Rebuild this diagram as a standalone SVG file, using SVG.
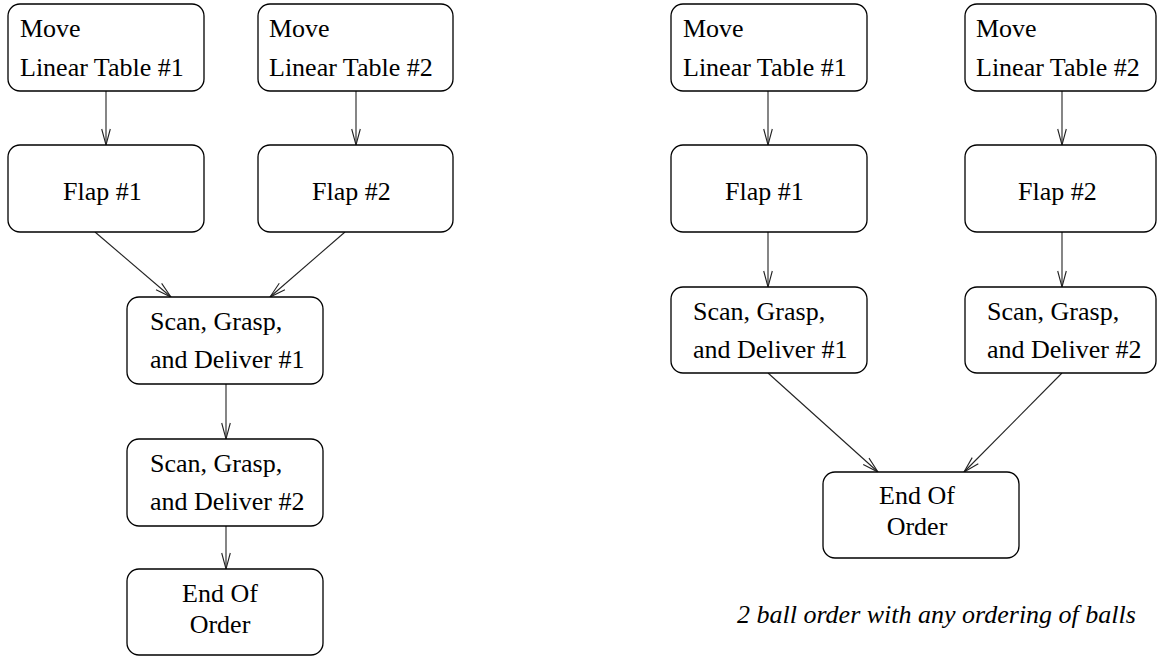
<svg xmlns="http://www.w3.org/2000/svg" width="1158" height="657" viewBox="0 0 1158 657">
<style>
.box{fill:#fff;stroke:#000;stroke-width:1.3}
.t{font-family:"Liberation Serif","Times New Roman",serif;font-size:26px;fill:#000}
.c{text-anchor:middle}
.e{stroke:#222;stroke-width:1.1;fill:none}
.cap{font-style:italic}
</style>
<defs>
<marker id="ah" viewBox="-17 -6 18 12" markerWidth="18" markerHeight="12" refX="0" refY="0" markerUnits="userSpaceOnUse" orient="auto">
<path d="M-16,-4.3 L0,0 L-16,4.3" fill="none" stroke="#222" stroke-width="1.1"/>
</marker>
</defs>
<rect width="1158" height="657" fill="#fff"/>
<g id="connectors">
<line class="e" x1="106" y1="91" x2="106" y2="145" marker-end="url(#ah)"/>
<line class="e" x1="356" y1="91" x2="356" y2="145" marker-end="url(#ah)"/>
<line class="e" x1="95" y1="232" x2="171" y2="297" marker-end="url(#ah)"/>
<line class="e" x1="345" y1="232" x2="270" y2="297" marker-end="url(#ah)"/>
<line class="e" x1="226" y1="384" x2="226" y2="439" marker-end="url(#ah)"/>
<line class="e" x1="226" y1="526" x2="226" y2="569" marker-end="url(#ah)"/>
<line class="e" x1="768" y1="91" x2="768" y2="145" marker-end="url(#ah)"/>
<line class="e" x1="1062" y1="91" x2="1062" y2="145" marker-end="url(#ah)"/>
<line class="e" x1="768" y1="232" x2="768" y2="287" marker-end="url(#ah)"/>
<line class="e" x1="1062" y1="232" x2="1062" y2="287" marker-end="url(#ah)"/>
<line class="e" x1="768" y1="373" x2="878" y2="472" marker-end="url(#ah)"/>
<line class="e" x1="1062" y1="373" x2="964" y2="472" marker-end="url(#ah)"/>
</g>
<g id="L_move1"><rect class="box" x="8" y="4" width="196" height="87" rx="12"/><text class="t" x="20" y="37">Move</text><text class="t" x="20" y="76">Linear Table #1</text></g>
<g id="L_move2"><rect class="box" x="258" y="4" width="195" height="87" rx="12"/><text class="t" x="269" y="37">Move</text><text class="t" x="269" y="76">Linear Table #2</text></g>
<g id="L_flap1"><rect class="box" x="8" y="145" width="196" height="87" rx="12"/><text class="t" x="63" y="200">Flap #1</text></g>
<g id="L_flap2"><rect class="box" x="258" y="145" width="195" height="87" rx="12"/><text class="t" x="312" y="200">Flap #2</text></g>
<g id="L_sgd1"><rect class="box" x="127" y="297" width="196" height="87" rx="12"/><text class="t" x="150" y="330">Scan, Grasp,</text><text class="t" x="150" y="368">and Deliver #1</text></g>
<g id="L_sgd2"><rect class="box" x="127" y="439" width="196" height="87" rx="12"/><text class="t" x="150" y="472">Scan, Grasp,</text><text class="t" x="150" y="510">and Deliver #2</text></g>
<g id="L_end"><rect class="box" x="127" y="569" width="196" height="86" rx="12"/><text class="t c" x="220" y="602">End Of</text><text class="t c" x="220" y="633">Order</text></g>
<g id="R_move1"><rect class="box" x="671" y="4" width="196" height="87" rx="12"/><text class="t" x="683" y="37">Move</text><text class="t" x="683" y="76">Linear Table #1</text></g>
<g id="R_move2"><rect class="box" x="965" y="4" width="191" height="87" rx="12"/><text class="t" x="976" y="37">Move</text><text class="t" x="976" y="76">Linear Table #2</text></g>
<g id="R_flap1"><rect class="box" x="671" y="145" width="196" height="87" rx="12"/><text class="t" x="725" y="200">Flap #1</text></g>
<g id="R_flap2"><rect class="box" x="965" y="145" width="191" height="87" rx="12"/><text class="t" x="1018" y="200">Flap #2</text></g>
<g id="R_sgd1"><rect class="box" x="671" y="287" width="196" height="86" rx="12"/><text class="t" x="693" y="320">Scan, Grasp,</text><text class="t" x="693" y="358">and Deliver #1</text></g>
<g id="R_sgd2"><rect class="box" x="965" y="287" width="191" height="86" rx="12"/><text class="t" x="987" y="320">Scan, Grasp,</text><text class="t" x="987" y="358">and Deliver #2</text></g>
<g id="R_end"><rect class="box" x="823" y="472" width="196" height="86" rx="12"/><text class="t c" x="917" y="504">End Of</text><text class="t c" x="917" y="535">Order</text></g>
<text class="t cap" x="737" y="623">2 ball order with any ordering of balls</text>
</svg>
